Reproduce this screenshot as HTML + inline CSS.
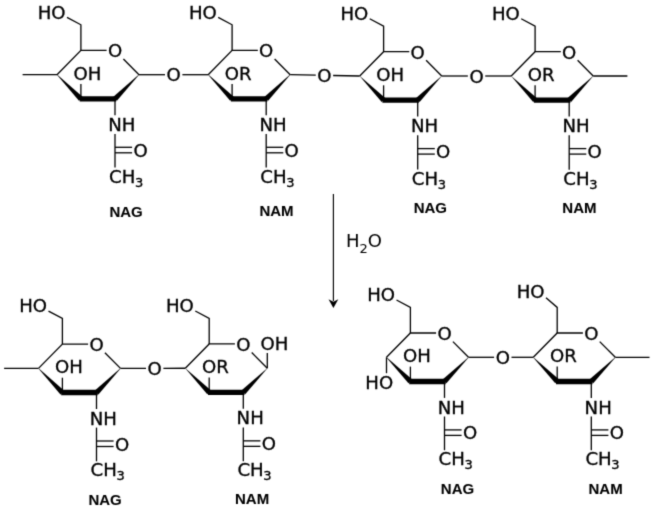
<!DOCTYPE html>
<html><head><meta charset="utf-8"><title>NAG-NAM hydrolysis</title>
<style>
html,body{margin:0;padding:0;background:#fff;}
svg{display:block;will-change:transform;}
.a{font-family:"DejaVu Sans","Liberation Sans",sans-serif;font-size:18.1px;fill:#000;}
.s{font-size:13.0px;}
.b{font-family:"Liberation Sans",sans-serif;font-weight:bold;font-size:15px;fill:#000;stroke-width:0.1px;}
</style></head><body>
<svg width="655" height="512" viewBox="0 0 655 512" stroke="#000" stroke-linecap="butt" stroke-linejoin="miter">
<rect x="0" y="0" width="655" height="512" fill="#fff" stroke="none"/>
<defs><filter id="soft" x="-2%" y="-2%" width="104%" height="104%"><feConvolveMatrix order="3" kernelMatrix="0.01917 0.10012 0.01917 0.10012 0.52283 0.10012 0.01917 0.10012 0.01917" divisor="1" edgeMode="duplicate" preserveAlpha="false"/></filter></defs>
<g filter="url(#soft)">
<polyline fill="none" stroke-width="1.3" points="57.00,74.70 80.90,50.40 106.60,50.40"/>
<line x1="123.40" y1="59.00" x2="139.00" y2="74.70" stroke-width="1.3"/>
<text stroke="#000" stroke-width="0.35" x="107.90" y="57.30" class="a" text-anchor="start">O</text>
<polygon stroke="none" fill="#000" points="56.89,74.81 78.98,100.75 82.82,96.95 57.11,74.59"/>
<polygon stroke="none" fill="#000" points="138.89,74.59 113.08,96.95 116.92,100.75 139.11,74.81"/>
<line x1="79.70" y1="98.85" x2="116.20" y2="98.85" stroke-width="5.4"/>
<polyline fill="none" stroke-width="1.3" points="80.90,50.40 80.90,24.80 67.00,17.40"/>
<text stroke="#000" stroke-width="0.35" x="37.70" y="18.70" class="a" text-anchor="start">HO</text>
<line x1="80.90" y1="98.85" x2="80.90" y2="84.00" stroke-width="1.3"/>
<text stroke="#000" stroke-width="0.35" x="73.60" y="79.70" class="a" text-anchor="start">OH</text>
<line x1="115.00" y1="98.85" x2="115.00" y2="115.30" stroke-width="1.3"/>
<text stroke="#000" stroke-width="0.35" x="108.30" y="130.90" class="a" text-anchor="start">NH</text>
<line x1="115.00" y1="133.90" x2="115.00" y2="167.60" stroke-width="1.3"/>
<line x1="115.00" y1="147.30" x2="132.10" y2="147.30" stroke-width="1.3"/>
<line x1="115.00" y1="152.80" x2="132.10" y2="152.80" stroke-width="1.3"/>
<text stroke="#000" stroke-width="0.35" x="133.40" y="156.80" class="a" text-anchor="start">O</text>
<text stroke="#000" stroke-width="0.35" x="109.10" y="182.70" class="a">CH<tspan class="s" dy="4.0" dx="-0.3">3</tspan></text>
<text stroke="#000" stroke-width="0.35" x="126.10" y="217.00" class="b" text-anchor="middle">NAG</text>
<line x1="22.60" y1="74.70" x2="57.00" y2="74.70" stroke-width="1.3"/>
<polyline fill="none" stroke-width="1.3" points="208.20,74.70 232.10,50.40 257.80,50.40"/>
<line x1="274.60" y1="59.00" x2="290.20" y2="74.70" stroke-width="1.3"/>
<text stroke="#000" stroke-width="0.35" x="259.10" y="57.30" class="a" text-anchor="start">O</text>
<polygon stroke="none" fill="#000" points="208.09,74.81 230.18,100.75 234.02,96.95 208.31,74.59"/>
<polygon stroke="none" fill="#000" points="290.09,74.59 264.28,96.95 268.12,100.75 290.31,74.81"/>
<line x1="230.90" y1="98.85" x2="267.40" y2="98.85" stroke-width="5.4"/>
<polyline fill="none" stroke-width="1.3" points="232.10,50.40 232.10,24.80 218.20,17.40"/>
<text stroke="#000" stroke-width="0.35" x="188.90" y="18.70" class="a" text-anchor="start">HO</text>
<line x1="232.10" y1="98.85" x2="232.10" y2="84.00" stroke-width="1.3"/>
<text stroke="#000" stroke-width="0.35" x="224.80" y="79.70" class="a" text-anchor="start">OR</text>
<line x1="266.20" y1="98.85" x2="266.20" y2="115.30" stroke-width="1.3"/>
<text stroke="#000" stroke-width="0.35" x="259.50" y="130.90" class="a" text-anchor="start">NH</text>
<line x1="266.20" y1="133.90" x2="266.20" y2="167.60" stroke-width="1.3"/>
<line x1="266.20" y1="147.30" x2="283.30" y2="147.30" stroke-width="1.3"/>
<line x1="266.20" y1="152.80" x2="283.30" y2="152.80" stroke-width="1.3"/>
<text stroke="#000" stroke-width="0.35" x="284.60" y="156.80" class="a" text-anchor="start">O</text>
<text stroke="#000" stroke-width="0.35" x="260.30" y="182.70" class="a">CH<tspan class="s" dy="4.0" dx="-0.3">3</tspan></text>
<text stroke="#000" stroke-width="0.35" x="276.50" y="216.00" class="b" text-anchor="middle">NAM</text>
<polyline fill="none" stroke-width="1.3" points="359.70,76.00 383.60,51.70 409.30,51.70"/>
<line x1="426.10" y1="60.30" x2="441.70" y2="76.00" stroke-width="1.3"/>
<text stroke="#000" stroke-width="0.35" x="410.60" y="58.60" class="a" text-anchor="start">O</text>
<polygon stroke="none" fill="#000" points="359.59,76.11 381.68,102.05 385.52,98.25 359.81,75.89"/>
<polygon stroke="none" fill="#000" points="441.59,75.89 415.78,98.25 419.62,102.05 441.81,76.11"/>
<line x1="382.40" y1="100.15" x2="418.90" y2="100.15" stroke-width="5.4"/>
<polyline fill="none" stroke-width="1.3" points="383.60,51.70 383.60,26.10 369.70,18.70"/>
<text stroke="#000" stroke-width="0.35" x="340.40" y="20.00" class="a" text-anchor="start">HO</text>
<line x1="383.60" y1="100.15" x2="383.60" y2="85.30" stroke-width="1.3"/>
<text stroke="#000" stroke-width="0.35" x="376.30" y="81.00" class="a" text-anchor="start">OH</text>
<line x1="417.70" y1="100.15" x2="417.70" y2="116.60" stroke-width="1.3"/>
<text stroke="#000" stroke-width="0.35" x="411.00" y="132.20" class="a" text-anchor="start">NH</text>
<line x1="417.70" y1="135.20" x2="417.70" y2="169.40" stroke-width="1.3"/>
<line x1="417.70" y1="148.60" x2="434.80" y2="148.60" stroke-width="1.3"/>
<line x1="417.70" y1="154.10" x2="434.80" y2="154.10" stroke-width="1.3"/>
<text stroke="#000" stroke-width="0.35" x="436.10" y="158.10" class="a" text-anchor="start">O</text>
<text stroke="#000" stroke-width="0.35" x="411.80" y="184.50" class="a">CH<tspan class="s" dy="4.0" dx="-0.3">3</tspan></text>
<text stroke="#000" stroke-width="0.35" x="430.30" y="213.10" class="b" text-anchor="middle">NAG</text>
<polyline fill="none" stroke-width="1.3" points="511.20,76.00 535.10,51.70 560.80,51.70"/>
<line x1="577.60" y1="60.30" x2="593.20" y2="76.00" stroke-width="1.3"/>
<text stroke="#000" stroke-width="0.35" x="562.10" y="58.60" class="a" text-anchor="start">O</text>
<polygon stroke="none" fill="#000" points="511.09,76.11 533.18,102.05 537.02,98.25 511.31,75.89"/>
<polygon stroke="none" fill="#000" points="593.09,75.89 567.28,98.25 571.12,102.05 593.31,76.11"/>
<line x1="533.90" y1="100.15" x2="570.40" y2="100.15" stroke-width="5.4"/>
<polyline fill="none" stroke-width="1.3" points="535.10,51.70 535.10,26.10 521.20,18.70"/>
<text stroke="#000" stroke-width="0.35" x="491.90" y="20.00" class="a" text-anchor="start">HO</text>
<line x1="535.10" y1="100.15" x2="535.10" y2="85.30" stroke-width="1.3"/>
<text stroke="#000" stroke-width="0.35" x="527.80" y="81.00" class="a" text-anchor="start">OR</text>
<line x1="569.20" y1="100.15" x2="569.20" y2="116.60" stroke-width="1.3"/>
<text stroke="#000" stroke-width="0.35" x="562.50" y="132.20" class="a" text-anchor="start">NH</text>
<line x1="569.20" y1="135.20" x2="569.20" y2="169.70" stroke-width="1.3"/>
<line x1="569.20" y1="148.60" x2="586.30" y2="148.60" stroke-width="1.3"/>
<line x1="569.20" y1="154.10" x2="586.30" y2="154.10" stroke-width="1.3"/>
<text stroke="#000" stroke-width="0.35" x="587.60" y="158.10" class="a" text-anchor="start">O</text>
<text stroke="#000" stroke-width="0.35" x="563.30" y="184.80" class="a">CH<tspan class="s" dy="4.0" dx="-0.3">3</tspan></text>
<text stroke="#000" stroke-width="0.35" x="579.40" y="213.30" class="b" text-anchor="middle">NAM</text>
<line x1="593.20" y1="76.00" x2="627.40" y2="76.00" stroke-width="1.3"/>
<line x1="139.00" y1="74.70" x2="165.00" y2="74.70" stroke-width="1.3"/>
<line x1="182.40" y1="74.70" x2="208.20" y2="74.70" stroke-width="1.3"/>
<text stroke="#000" stroke-width="0.35" x="166.60" y="81.40" class="a" text-anchor="start">O</text>
<line x1="290.20" y1="74.70" x2="315.75" y2="75.18" stroke-width="1.3"/>
<line x1="333.15" y1="75.50" x2="359.70" y2="76.00" stroke-width="1.3"/>
<text stroke="#000" stroke-width="0.35" x="317.35" y="82.05" class="a" text-anchor="start">O</text>
<line x1="441.70" y1="76.00" x2="467.85" y2="76.00" stroke-width="1.3"/>
<line x1="485.25" y1="76.00" x2="511.20" y2="76.00" stroke-width="1.3"/>
<text stroke="#000" stroke-width="0.35" x="469.45" y="82.70" class="a" text-anchor="start">O</text>
<polyline fill="none" stroke-width="1.3" points="38.50,368.40 62.40,344.10 88.10,344.10"/>
<line x1="104.90" y1="352.70" x2="120.50" y2="368.40" stroke-width="1.3"/>
<text stroke="#000" stroke-width="0.35" x="89.40" y="351.00" class="a" text-anchor="start">O</text>
<polygon stroke="none" fill="#000" points="38.39,368.51 60.48,394.45 64.32,390.65 38.61,368.29"/>
<polygon stroke="none" fill="#000" points="120.39,368.29 94.58,390.65 98.42,394.45 120.61,368.51"/>
<line x1="61.20" y1="392.55" x2="97.70" y2="392.55" stroke-width="5.4"/>
<polyline fill="none" stroke-width="1.3" points="62.40,344.10 62.40,318.50 48.50,311.10"/>
<text stroke="#000" stroke-width="0.35" x="19.20" y="312.40" class="a" text-anchor="start">HO</text>
<line x1="62.40" y1="392.55" x2="62.40" y2="377.70" stroke-width="1.3"/>
<text stroke="#000" stroke-width="0.35" x="55.10" y="373.40" class="a" text-anchor="start">OH</text>
<line x1="96.50" y1="392.55" x2="96.50" y2="409.00" stroke-width="1.3"/>
<text stroke="#000" stroke-width="0.35" x="89.80" y="424.60" class="a" text-anchor="start">NH</text>
<line x1="96.50" y1="427.60" x2="96.50" y2="461.30" stroke-width="1.3"/>
<line x1="96.50" y1="441.00" x2="113.60" y2="441.00" stroke-width="1.3"/>
<line x1="96.50" y1="446.50" x2="113.60" y2="446.50" stroke-width="1.3"/>
<text stroke="#000" stroke-width="0.35" x="114.90" y="450.50" class="a" text-anchor="start">O</text>
<text stroke="#000" stroke-width="0.35" x="90.60" y="476.40" class="a">CH<tspan class="s" dy="4.0" dx="-0.3">3</tspan></text>
<text stroke="#000" stroke-width="0.35" x="105.10" y="504.70" class="b" text-anchor="middle">NAG</text>
<line x1="4.10" y1="368.40" x2="38.50" y2="368.40" stroke-width="1.3"/>
<polyline fill="none" stroke-width="1.3" points="185.30,368.25 209.20,343.95 234.90,343.95"/>
<line x1="251.70" y1="352.55" x2="267.30" y2="368.25" stroke-width="1.3"/>
<text stroke="#000" stroke-width="0.35" x="236.20" y="350.85" class="a" text-anchor="start">O</text>
<polygon stroke="none" fill="#000" points="185.19,368.36 207.28,394.30 211.12,390.50 185.41,368.14"/>
<polygon stroke="none" fill="#000" points="267.19,368.14 241.38,390.50 245.22,394.30 267.41,368.36"/>
<line x1="208.00" y1="392.40" x2="244.50" y2="392.40" stroke-width="5.4"/>
<polyline fill="none" stroke-width="1.3" points="209.20,343.95 209.20,318.35 195.30,310.95"/>
<text stroke="#000" stroke-width="0.35" x="166.00" y="312.25" class="a" text-anchor="start">HO</text>
<line x1="209.20" y1="392.40" x2="209.20" y2="377.55" stroke-width="1.3"/>
<text stroke="#000" stroke-width="0.35" x="201.90" y="373.25" class="a" text-anchor="start">OR</text>
<line x1="243.30" y1="392.40" x2="243.30" y2="408.85" stroke-width="1.3"/>
<text stroke="#000" stroke-width="0.35" x="236.60" y="424.45" class="a" text-anchor="start">NH</text>
<line x1="243.30" y1="427.45" x2="243.30" y2="461.15" stroke-width="1.3"/>
<line x1="243.30" y1="440.85" x2="260.40" y2="440.85" stroke-width="1.3"/>
<line x1="243.30" y1="446.35" x2="260.40" y2="446.35" stroke-width="1.3"/>
<text stroke="#000" stroke-width="0.35" x="261.70" y="450.35" class="a" text-anchor="start">O</text>
<text stroke="#000" stroke-width="0.35" x="237.40" y="476.25" class="a">CH<tspan class="s" dy="4.0" dx="-0.3">3</tspan></text>
<text stroke="#000" stroke-width="0.35" x="252.10" y="503.75" class="b" text-anchor="middle">NAM</text>
<line x1="267.30" y1="368.25" x2="267.30" y2="353.05" stroke-width="1.3"/>
<text stroke="#000" stroke-width="0.35" x="260.40" y="349.55" class="a" text-anchor="start">OH</text>
<line x1="120.50" y1="368.40" x2="146.00" y2="368.34" stroke-width="1.3"/>
<line x1="163.40" y1="368.30" x2="185.30" y2="368.25" stroke-width="1.3"/>
<text stroke="#000" stroke-width="0.35" x="147.60" y="375.02" class="a" text-anchor="start">O</text>
<polyline fill="none" stroke-width="1.3" points="386.50,357.30 410.40,333.00 436.10,333.00"/>
<line x1="452.90" y1="341.60" x2="468.50" y2="357.30" stroke-width="1.3"/>
<text stroke="#000" stroke-width="0.35" x="437.40" y="339.90" class="a" text-anchor="start">O</text>
<polygon stroke="none" fill="#000" points="386.39,357.41 408.48,383.35 412.32,379.55 386.61,357.19"/>
<polygon stroke="none" fill="#000" points="468.39,357.19 442.58,379.55 446.42,383.35 468.61,357.41"/>
<line x1="409.20" y1="381.45" x2="445.70" y2="381.45" stroke-width="5.4"/>
<polyline fill="none" stroke-width="1.3" points="410.40,333.00 410.40,307.40 396.50,300.00"/>
<text stroke="#000" stroke-width="0.35" x="367.20" y="301.30" class="a" text-anchor="start">HO</text>
<line x1="410.40" y1="381.45" x2="410.40" y2="366.60" stroke-width="1.3"/>
<text stroke="#000" stroke-width="0.35" x="403.10" y="362.30" class="a" text-anchor="start">OH</text>
<line x1="444.50" y1="381.45" x2="444.50" y2="397.90" stroke-width="1.3"/>
<text stroke="#000" stroke-width="0.35" x="437.80" y="413.50" class="a" text-anchor="start">NH</text>
<line x1="444.50" y1="416.50" x2="444.50" y2="450.20" stroke-width="1.3"/>
<line x1="444.50" y1="429.90" x2="461.60" y2="429.90" stroke-width="1.3"/>
<line x1="444.50" y1="435.40" x2="461.60" y2="435.40" stroke-width="1.3"/>
<text stroke="#000" stroke-width="0.35" x="462.90" y="439.40" class="a" text-anchor="start">O</text>
<text stroke="#000" stroke-width="0.35" x="438.60" y="465.30" class="a">CH<tspan class="s" dy="4.0" dx="-0.3">3</tspan></text>
<text stroke="#000" stroke-width="0.35" x="457.50" y="493.60" class="b" text-anchor="middle">NAG</text>
<line x1="386.50" y1="357.30" x2="386.50" y2="373.20" stroke-width="1.3"/>
<text stroke="#000" stroke-width="0.35" x="365.35" y="389.10" class="a" text-anchor="start">HO</text>
<polyline fill="none" stroke-width="1.3" points="533.30,357.30 557.20,333.00 582.90,333.00"/>
<line x1="599.70" y1="341.60" x2="615.30" y2="357.30" stroke-width="1.3"/>
<text stroke="#000" stroke-width="0.35" x="584.20" y="339.90" class="a" text-anchor="start">O</text>
<polygon stroke="none" fill="#000" points="533.19,357.41 555.28,383.35 559.12,379.55 533.41,357.19"/>
<polygon stroke="none" fill="#000" points="615.19,357.19 589.38,379.55 593.22,383.35 615.41,357.41"/>
<line x1="556.00" y1="381.45" x2="592.50" y2="381.45" stroke-width="5.4"/>
<polyline fill="none" stroke-width="1.3" points="557.20,333.00 557.20,307.40 546.00,297.80"/>
<text stroke="#000" stroke-width="0.35" x="516.70" y="297.80" class="a" text-anchor="start">HO</text>
<line x1="557.20" y1="381.45" x2="557.20" y2="366.60" stroke-width="1.3"/>
<text stroke="#000" stroke-width="0.35" x="549.90" y="362.30" class="a" text-anchor="start">OR</text>
<line x1="591.30" y1="381.45" x2="591.30" y2="397.90" stroke-width="1.3"/>
<text stroke="#000" stroke-width="0.35" x="584.60" y="413.50" class="a" text-anchor="start">NH</text>
<line x1="591.30" y1="416.50" x2="591.30" y2="450.20" stroke-width="1.3"/>
<line x1="591.30" y1="429.90" x2="608.40" y2="429.90" stroke-width="1.3"/>
<line x1="591.30" y1="435.40" x2="608.40" y2="435.40" stroke-width="1.3"/>
<text stroke="#000" stroke-width="0.35" x="609.70" y="439.40" class="a" text-anchor="start">O</text>
<text stroke="#000" stroke-width="0.35" x="585.40" y="465.30" class="a">CH<tspan class="s" dy="4.0" dx="-0.3">3</tspan></text>
<text stroke="#000" stroke-width="0.35" x="605.60" y="493.60" class="b" text-anchor="middle">NAM</text>
<line x1="615.30" y1="357.30" x2="649.50" y2="357.30" stroke-width="1.3"/>
<line x1="468.50" y1="357.30" x2="494.10" y2="357.30" stroke-width="1.3"/>
<line x1="511.50" y1="357.30" x2="533.30" y2="357.30" stroke-width="1.3"/>
<text stroke="#000" stroke-width="0.35" x="495.70" y="364.00" class="a" text-anchor="start">O</text>
<line x1="333.40" y1="194.10" x2="333.40" y2="301.00" stroke-width="1.15"/>
<polygon stroke="none" fill="#000" points="333.40,308.00 328.50,299.20 333.40,301.80 338.30,299.20"/>
<text stroke="#000" stroke-width="0.35" x="346.0" y="247.3" class="a" style="font-size:18px;stroke-width:0.05px">H<tspan class="s" dy="5.2">2</tspan><tspan dy="-5.2">O</tspan></text>
</g>
</svg>
</body></html>
